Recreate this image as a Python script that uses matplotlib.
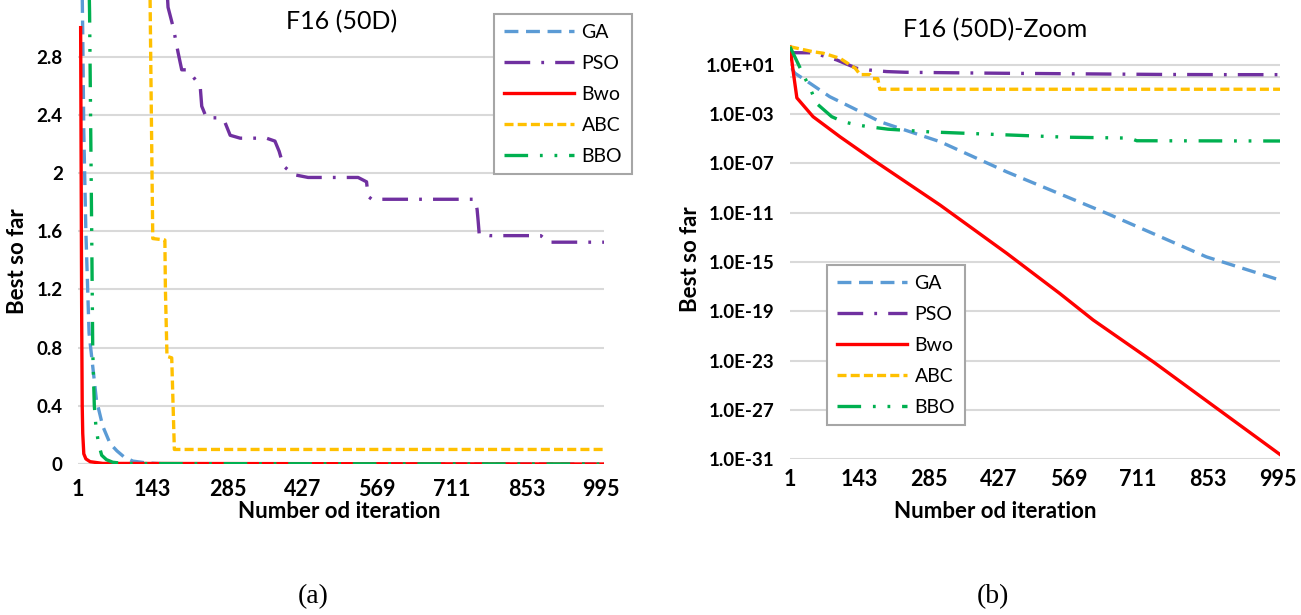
import matplotlib
matplotlib.use("Agg")
import matplotlib.pyplot as plt

plt.rcParams['font.family'] = ['Lato', 'DejaVu Sans']
plt.rcParams['lines.scale_dashes'] = False

# ---- data ----
ticks_x = [1, 143, 285, 427, 569, 711, 853, 995]
names = ['GA', 'PSO', 'Bwo', 'ABC', 'BBO']

# (a) linear panel
ga_it_lin = [8, 10, 12, 16, 22, 29, 36, 48, 62, 75, 88, 105, 130, 160, 1000]
ga_lin = [3.5, 2.96, 2.28, 1.59, 0.9, 0.67, 0.44, 0.26, 0.14, 0.09, 0.05, 0.02, 0.008, 0.002, 0.0]

pso_it_lin = [168, 172, 182, 191, 198, 207, 220, 233, 236, 245, 271, 280, 290, 309, 359, 375, 383,
              391, 410, 438, 533, 549, 552, 559, 755, 759, 761, 763, 783, 880, 894, 1000]
pso_lin = [3.4, 3.14, 3.0, 2.83, 2.71, 2.71, 2.66, 2.6, 2.46, 2.38, 2.38, 2.35, 2.26, 2.24, 2.24, 2.22, 2.15,
           2.05, 1.99, 1.97, 1.97, 1.94, 1.84, 1.82, 1.82, 1.75, 1.67, 1.58, 1.57, 1.57, 1.525, 1.525]

bwo_it_lin = [6, 7, 8, 9, 10, 12, 16, 24, 48, 1000]
bwo_lin = [3.0, 2.0, 1.0, 0.4, 0.21, 0.07, 0.035, 0.016, 0.004, 0.0]

abc_it_lin = [137, 140, 143, 166, 167, 170, 179, 184, 1000]
abc_lin = [3.5, 2.5, 1.55, 1.54, 1.2, 0.74, 0.73, 0.1, 0.1]

bbo_it_lin = [21, 23, 27, 29, 32, 35, 40, 46, 55, 67, 90, 1000]
bbo_lin = [3.5, 3.1, 1.6, 0.78, 0.4, 0.26, 0.14, 0.06, 0.03, 0.012, 0.003, 0.0]

# (b) log panel
ga_it_log = [1, 6, 11, 32, 82, 130, 185, 307, 443, 647, 850, 1000]
ga_log = [2.8e2, 4.0, 2.0, 0.56, 0.025, 2.9e-3, 2.3e-4, 5.6e-6, 2.0e-8, 8.7e-12, 2.6e-15, 3.4e-17]

pso_it_log = [1, 2, 48, 96, 137, 163, 198, 236, 290, 391, 438, 559, 763, 894, 1000]
pso_log = [2.8e2, 9.2e1, 9.0e1, 2.4e1, 5.0, 3.6, 2.71, 2.38, 2.26, 2.05, 1.97, 1.82, 1.58, 1.525, 1.525]

bwo_it_log = [1, 8, 15, 48, 103, 171, 307, 443, 551, 619, 742, 844, 1000]
bwo_log = [2.8e2, 2.0, 2.0e-2, 6.0e-4, 1.4e-5, 1.8e-7, 4.1e-11, 5.0e-15, 2.8e-18, 2.0e-20,
           7.9e-24, 8.5e-27, 2.5e-31]

abc_it_log = [1, 48, 69, 103, 134, 144, 164, 170, 180, 184, 1000]
abc_log = [2.8e2, 1.1e2, 8.3e1, 3.2e1, 5.0, 1.54, 1.54, 0.74, 0.73, 0.1, 0.1]

bbo_it_log = [1, 21, 45, 55, 86, 110, 137, 161, 201, 286, 443, 565, 694, 708, 1000]
bbo_log = [2.8e2, 6.0, 6.3e-2, 7.2e-3, 6.0e-4, 2.3e-4, 1.3e-4, 9.2e-5, 5.8e-5, 3.5e-5, 2.0e-5,
           1.3e-5, 1.1e-5, 6.7e-6, 6.4e-6]

# ---- styles ----
colors = {'GA': '#5B9BD5', 'PSO': '#7030A0', 'Bwo': '#FF0000', 'ABC': '#FFC000', 'BBO': '#00B050'}
dashes = {'GA': (0, (10, 5.5)),
          'PSO': (0, (18.5, 8, 2, 8)),
          'Bwo': '-',
          'ABC': (0, (6.5, 3)),
          'BBO': (0, (17, 8.5, 2, 8.5, 2, 8.5))}
LW = 2.4
GRID = '#D9D9D9'

fig = plt.figure(figsize=(13.01, 6.15), dpi=100)
W, H = 1301, 615


def px_axes(x0, x1, ytop, ybot):
    return fig.add_axes([x0 / W, 1 - ybot / H, (x1 - x0) / W, (ybot - ytop) / H])


def style_axes(ax, xpad):
    for s in ax.spines.values():
        s.set_visible(False)
    ax.set_xlim(1, 1000)
    ax.set_xticks(ticks_x)
    ax.tick_params(axis='both', length=0)
    ax.tick_params(axis='x', labelsize=15.5, pad=xpad)
    ax.tick_params(axis='y', labelsize=13.5, pad=11)
    for lab in ax.get_xticklabels() + ax.get_yticklabels():
        lab.set_fontweight('bold')


series_a = {'GA': (ga_it_lin, ga_lin), 'PSO': (pso_it_lin, pso_lin), 'Bwo': (bwo_it_lin, bwo_lin),
            'ABC': (abc_it_lin, abc_lin), 'BBO': (bbo_it_lin, bbo_lin)}
series_b = {'GA': (ga_it_log, ga_log), 'PSO': (pso_it_log, pso_log), 'Bwo': (bwo_it_log, bwo_log),
            'ABC': (abc_it_log, abc_log), 'BBO': (bbo_it_log, bbo_log)}

# ---- panel (a) ----
ax1 = px_axes(78, 604, 0, 464)
ax1.set_ylim(0, 3.19)
ax1.set_yticks([0, 0.4, 0.8, 1.2, 1.6, 2, 2.4, 2.8])
ax1.set_yticklabels(['0', '0.4', '0.8', '1.2', '1.6', '2', '2.4', '2.8'])
ax1.grid(axis='y', color=GRID, lw=1.5)
ax1.set_axisbelow(True)
ax1.axhline(0, color=GRID, lw=1.5, zorder=0)
for name in names:  # same drawing order as the series order
    it, val = series_a[name]
    ax1.plot(it, val, color=colors[name], ls=dashes[name], lw=LW, label=name)
style_axes(ax1, xpad=11)

# ---- panel (b) ----
ax2 = px_axes(790, 1280, 39.9, 459.4)
ax2.set_yscale('log')
ax2.set_ylim(1e-31, 1e3)
yt = [1e1, 1e-3, 1e-7, 1e-11, 1e-15, 1e-19, 1e-23, 1e-27, 1e-31]
ax2.set_yticks(yt)
ax2.set_yticklabels(['1.0E+01', '1.0E-03', '1.0E-07', '1.0E-11', '1.0E-15', '1.0E-19',
                     '1.0E-23', '1.0E-27', '1.0E-31'])
ax2.yaxis.set_minor_locator(matplotlib.ticker.NullLocator())
ax2.grid(axis='y', which='major', color=GRID, lw=1.5)
ax2.set_axisbelow(True)
ax2.axhline(1, color=GRID, lw=1.5, zorder=0)
for name in names:
    it, val = series_b[name]
    ax2.plot(it, val, color=colors[name], ls=dashes[name], lw=LW, label=name)
style_axes(ax2, xpad=7)

# ---- legends ----
for ax, (lx, ly) in [(ax1, (494, 14)), (ax2, (827, 265))]:
    h, l = ax.get_legend_handles_labels()
    leg = fig.legend(h, l, loc='upper left',
                     bbox_to_anchor=(lx / W, 1 - ly / H), borderaxespad=0,
                     fontsize=14, handlelength=3.6, handletextpad=0.4,
                     labelspacing=0.72, borderpad=0.5, fancybox=False, framealpha=1)
    leg.get_frame().set_edgecolor('#A6A6A6')
    leg.get_frame().set_linewidth(1.5)

# ---- text ----
fig.text(342 / W, 1 - 22 / H, 'F16 (50D)', ha='center', va='center', fontsize=18)
fig.text(995 / W, 1 - 30 / H, 'F16 (50D)-Zoom', ha='center', va='center', fontsize=18)
for x in [339, 995]:
    fig.text(x / W, 1 - 512 / H, 'Number od iteration', ha='center', va='center',
             fontsize=16, fontweight='bold')
fig.text(18 / W, 1 - 261 / H, 'Best so far', ha='center', va='center', rotation=90,
         fontsize=16, fontweight='bold')
fig.text(690 / W, 1 - 259 / H, 'Best so far', ha='center', va='center', rotation=90,
         fontsize=16, fontweight='bold')
fig.text(313 / W, 1 - 597 / H, '(a)', ha='center', va='center', fontsize=20,
         family=['Liberation Serif', 'DejaVu Serif'])
fig.text(993 / W, 1 - 597 / H, '(b)', ha='center', va='center', fontsize=20,
         family=['Liberation Serif', 'DejaVu Serif'])

fig.savefig('out.png', dpi=100)
